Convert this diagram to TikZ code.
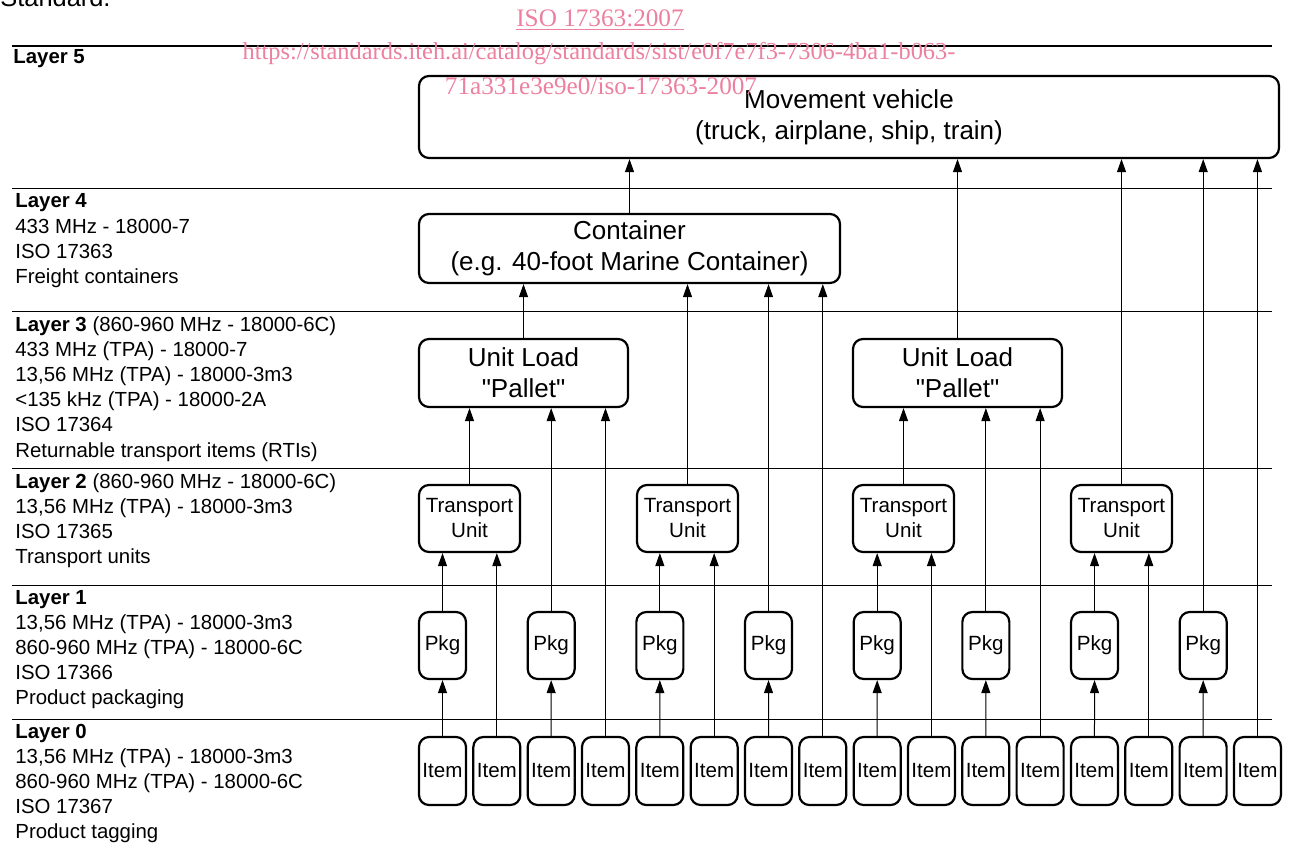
\documentclass[tikz,border=0pt]{standalone}
\usepackage{fontspec}
\setmainfont{Liberation Sans}
\newfontfamily\wmfont{Liberation Serif}
\usetikzlibrary{arrows.meta}
\definecolor{wmpink}{RGB}{236,128,160}

\begin{document}
\begin{tikzpicture}[x=0.5pt,y=-0.5pt,
    box/.style={draw,line width=1.1pt,rounded corners=5pt,align=center,inner sep=0pt},
    bigbox/.style={box,font=\fontsize{13}{15.5}\selectfont},
    smallbox/.style={box,font=\fontsize{10.3}{12.5}\selectfont,minimum height=33.5pt},
    itembox/.style={smallbox,minimum width=23.5pt,minimum height=34pt},
    layertext/.style={anchor=base west,align=left,inner sep=0pt,font=\fontsize{10.2}{12.6}\selectfont},
    arr/.style={-{Triangle[length=6.5pt,width=4.5pt]},line width=0.5pt},
    wm/.style={text=wmpink,inner sep=0pt,font=\wmfont\fontsize{12.6}{15}\selectfont}]
\useasboundingbox (0,0) rectangle (1289,850);

% cut-off page text
\node[anchor=base west,inner sep=0pt,font=\fontsize{12.7}{15}\selectfont] (pagetxt) at (0,7) {Standard.};

% layer separators
\draw[line width=0.6pt] (12,46) -- (1272,46);
\foreach \y in {189,311,468,585,719}
  \draw[line width=0.5pt] (12,\y) -- (1272,\y);

% layer descriptions (base = last line)
\node[layertext] (lay5) at (13,64) {\textbf{Layer 5}};
\node[layertext] (lay4) at (15,283.6) {\textbf{Layer 4}\\433 MHz - 18000-7\\ISO 17363\\Freight containers};
\node[layertext] (lay3) at (15,457) {\textbf{Layer 3} (860-960 MHz - 18000-6C)\\433 MHz (TPA) - 18000-7\\13,56 MHz (TPA) - 18000-3m3\\<135 kHz (TPA) - 18000-2A\\ISO 17364\\Returnable transport items (RTIs)};
\node[layertext] (lay2) at (15,563.6) {\textbf{Layer 2} (860-960 MHz - 18000-6C)\\13,56 MHz (TPA) - 18000-3m3\\ISO 17365\\Transport units};
\node[layertext] (lay1) at (15,704.8) {\textbf{Layer 1}\\13,56 MHz (TPA) - 18000-3m3\\860-960 MHz (TPA) - 18000-6C\\ISO 17366\\Product packaging};
\node[layertext] (lay0) at (15,838.8) {\textbf{Layer 0}\\13,56 MHz (TPA) - 18000-3m3\\860-960 MHz (TPA) - 18000-6C\\ISO 17367\\Product tagging};

% boxes
\node[bigbox,minimum width=430pt,minimum height=41pt] (veh) at (849,117) {Movement vehicle\\(truck, airplane, ship, train)};
\node[bigbox,minimum width=210.5pt,minimum height=34.5pt] (cont) at (629.5,248.5) {Container\\(e.g. 40-foot Marine Container)};
\node[bigbox,minimum width=104.5pt,minimum height=34pt] (ul1) at (523.5,373) {Unit Load\\\textquotedbl Pallet\textquotedbl};
\node[bigbox,minimum width=104.5pt,minimum height=34pt] (ul2) at (957.5,373) {Unit Load\\\textquotedbl Pallet\textquotedbl};
\foreach \i/\x in {1/469.5,2/687.5,3/903.5,4/1121.5}
  \node[smallbox,minimum width=50.5pt] (tu\i) at (\x,518.5) {Transport\\Unit};
\foreach \k in {0,...,7}
  \node[smallbox,minimum width=23.5pt] (pkg\k) at (442.5+108.67*\k,645.5) {Pkg};
\foreach \k in {0,...,15}
  \node[itembox] (item\k) at (442.5+54.33*\k,771) {Item};

% connectors
\foreach \k/\t in {0/tu1,1/ul1,2/tu2,3/cont,4/tu3,5/ul2,6/tu4,7/veh} {
  \pgfmathtruncatemacro{\a}{2*\k}
  \pgfmathtruncatemacro{\b}{2*\k+1}
  \draw[arr] (item\a) -- (pkg\k);
  \draw[arr] (pkg\k) -- (pkg\k.north |- \t.south);
  \draw[arr] (item\b) -- (item\b.north |- \t.south);
}
\draw[arr] (tu1) -- (tu1.north |- ul1.south);
\draw[arr] (tu2) -- (tu2.north |- cont.south);
\draw[arr] (tu3) -- (tu3.north |- ul2.south);
\draw[arr] (tu4) -- (tu4.north |- veh.south);
\draw[arr] (ul1) -- (ul1.north |- cont.south);
\draw[arr] (ul2) -- (ul2.north |- veh.south);
\draw[arr] (cont) -- (cont.north |- veh.south);

% watermark
\node[wm] (wm1) at (600,20) {\underline{ISO 17363:2007}};
\node[wm,font=\wmfont\fontsize{12.2}{15}\selectfont] (wm2) at (599,54) {https://standards.iteh.ai/catalog/standards/sist/e0f7e7f3-7306-4ba1-b063-};
\node[wm] (wm3) at (601,86) {71a331e3e9e0/iso-17363-2007};
\end{tikzpicture}
\end{document}
